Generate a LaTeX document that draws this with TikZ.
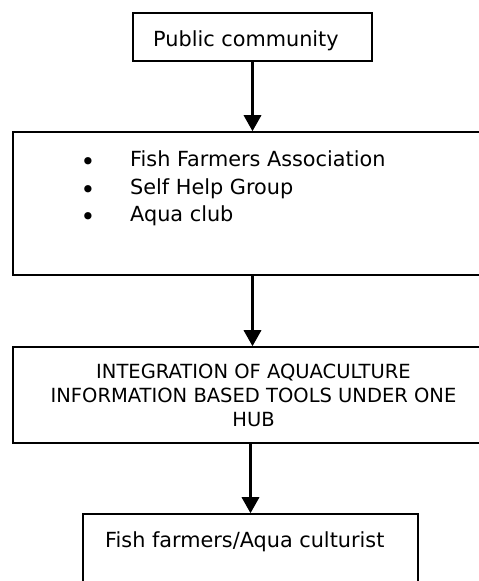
\documentclass[tikz,border=0pt]{standalone}
\usepackage{fontspec}
\setmainfont{DejaVu Sans}
\usetikzlibrary{arrows.meta}

\begin{document}
\begin{tikzpicture}[x=1pt,y=1pt,
  box/.style={draw,line width=1.5pt,inner sep=0pt},
  txt/.style={inner sep=0pt,font=\fontsize{20.8}{24}\selectfont},
  dot/.style={inner sep=0pt,anchor=base,font=\fontsize{25}{25}\selectfont},
  flow/.style={line width=3.2pt,-{Triangle[length=16pt,width=17pt]}}]
  \clip (0,0) rectangle (479,581);
  % boxes
  \node[box,minimum width=239,minimum height=48] (pub) at (252.5,544) {};
  \node[box,minimum width=472,minimum height=143] (grp) at (249,377.5) {};
  \node[box,minimum width=472,minimum height=96] (hub) at (249,186) {};
  \node[box,minimum width=335,minimum height=97] (farm) at (250.5,18.5) {};
  % texts
  \node[txt,anchor=base west] (pubtxt) at (153,534) {Public community};
  \node[dot] (dot1) at (88,410) {•};
  \node[txt,anchor=base west] (fish) at (130,414) {Fish Farmers Association};
  \node[dot] (dot2) at (88,382) {•};
  \node[txt,anchor=base west] (shg) at (130,386) {Self Help Group};
  \node[dot] (dot3) at (88,355) {•};
  \node[txt,anchor=base west] (club) at (130,359) {Aqua club};
  \node[txt,align=center,font=\fontsize{19.5}{24}\selectfont] (hubtxt) at (253.5,186) {INTEGRATION OF AQUACULTURE\\INFORMATION BASED TOOLS UNDER ONE\\HUB};
  \node[txt,anchor=base west] (farmtxt) at (105,33) {Fish farmers/Aqua culturist};
  % arrows
  \draw[flow] (pub.south) -- (pub.south |- grp.north);
  \draw[flow] (pub.south |- grp.south) -- (pub.south |- hub.north);
  \draw[flow] (farm.north |- hub.south) -- (farm.north);
\end{tikzpicture}
\end{document}
